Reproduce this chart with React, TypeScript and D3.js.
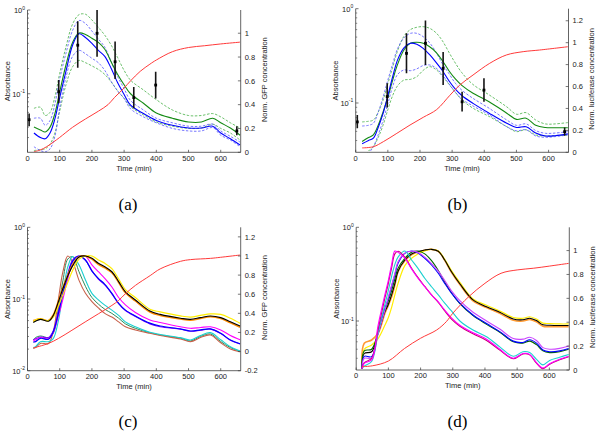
import React from "react";
import * as d3 from "d3";

const X_MAX = 662;
const X_TICKS = [0, 100, 200, 300, 400, 500, 600];

// ---------- Panel (a) ----------
const A_T = [20, 40, 55, 70, 85, 100, 120, 140, 160, 180, 200, 220, 240, 260, 280, 300, 320, 360, 400, 450, 500, 540, 575, 600, 630, 660];
const A_BLUE = [0.034, 0.030, 0.029, 0.034, 0.05, 0.09, 0.19, 0.38, 0.52, 0.47, 0.40, 0.33, 0.28, 0.20, 0.135, 0.098, 0.073, 0.058, 0.048, 0.042, 0.039, 0.039, 0.041, 0.034, 0.029, 0.0245];
const A_GREEN = [0.040, 0.037, 0.035, 0.040, 0.058, 0.105, 0.225, 0.41, 0.53, 0.51, 0.46, 0.41, 0.34, 0.24, 0.17, 0.128, 0.10, 0.077, 0.059, 0.051, 0.046, 0.046, 0.051, 0.045, 0.039, 0.032];
const A_GREEN_HI = [0.067, 0.069, 0.055, 0.06, 0.092, 0.175, 0.37, 0.68, 0.88, 0.89, 0.76, 0.62, 0.50, 0.38, 0.27, 0.19, 0.145, 0.111, 0.085, 0.064, 0.055, 0.055, 0.058, 0.053, 0.045, 0.039];
const A_GREEN_LO = [0.021, 0.0215, 0.022, 0.025, 0.034, 0.062, 0.13, 0.21, 0.25, 0.235, 0.215, 0.195, 0.17, 0.138, 0.108, 0.088, 0.07, 0.056, 0.046, 0.041, 0.0386, 0.039, 0.0434, 0.0386, 0.034, 0.028];
const A_BLUE_HI = [0.051, 0.051, 0.042, 0.048, 0.075, 0.15, 0.31, 0.57, 0.75, 0.69, 0.56, 0.45, 0.36, 0.24, 0.16, 0.115, 0.083, 0.064, 0.051, 0.045, 0.041, 0.041, 0.0434, 0.036, 0.031, 0.0265];
const A_BLUE_LO = [0.0233, 0.021, 0.0203, 0.022, 0.031, 0.068, 0.16, 0.28, 0.33, 0.30, 0.265, 0.235, 0.19, 0.14, 0.108, 0.088, 0.066, 0.053, 0.045, 0.0386, 0.036, 0.036, 0.0394, 0.032, 0.028, 0.0233];
const A_RED_T = [20, 40, 60, 80, 100, 140, 180, 220, 250, 270, 300, 320, 350, 380, 400, 450, 500, 550, 600, 660];
const A_RED = [0.005, 0.02, 0.048, 0.085, 0.125, 0.21, 0.28, 0.345, 0.4, 0.46, 0.54, 0.6, 0.68, 0.74, 0.775, 0.845, 0.88, 0.895, 0.91, 0.925];
const A_ERR_T = [5, 97, 156, 216, 272, 330, 398, 650];
const A_ERR_MID = [0.049, 0.106, 0.38, 0.527, 0.241, 0.09, 0.127, 0.036];
const A_ERR_LO = [0.041, 0.077, 0.205, 0.277, 0.15, 0.067, 0.088, 0.032];
const A_ERR_HI = [0.058, 0.146, 0.734, 1.0, 0.42, 0.12, 0.183, 0.041];

// ---------- Panel (b) ----------
const B_T = [20, 40, 55, 70, 85, 100, 115, 130, 150, 170, 190, 210, 230, 250, 270, 290, 310, 330, 365, 415, 470, 500, 530, 560, 590, 620, 660];
const B_BLUE = [0.037, 0.040, 0.0423, 0.055, 0.077, 0.12, 0.19, 0.285, 0.385, 0.43, 0.42, 0.38, 0.325, 0.27, 0.22, 0.172, 0.14, 0.12, 0.099, 0.078, 0.061, 0.055, 0.056, 0.048, 0.0447, 0.045, 0.047];
const B_GREEN = [0.039, 0.043, 0.046, 0.058, 0.08, 0.115, 0.175, 0.255, 0.365, 0.43, 0.44, 0.43, 0.395, 0.345, 0.28, 0.22, 0.18, 0.154, 0.127, 0.103, 0.078, 0.067, 0.069, 0.058, 0.055, 0.0547, 0.0547];
const B_GREEN_HI = [0.063, 0.064, 0.066, 0.08, 0.107, 0.16, 0.24, 0.355, 0.51, 0.6, 0.635, 0.645, 0.62, 0.555, 0.455, 0.345, 0.265, 0.21, 0.157, 0.122, 0.091, 0.076, 0.079, 0.066, 0.06, 0.06, 0.062];
const B_GREEN_LO = [0.024, 0.031, 0.0344, 0.043, 0.058, 0.085, 0.12, 0.152, 0.175, 0.178, 0.19, 0.222, 0.243, 0.226, 0.192, 0.158, 0.13, 0.108, 0.088, 0.072, 0.056, 0.0497, 0.052, 0.0458, 0.0447, 0.045, 0.0458];
const B_BLUE_HI = [0.057, 0.058, 0.061, 0.08, 0.115, 0.175, 0.26, 0.375, 0.49, 0.548, 0.548, 0.505, 0.435, 0.345, 0.26, 0.205, 0.162, 0.137, 0.112, 0.088, 0.066, 0.058, 0.06, 0.051, 0.0477, 0.048, 0.0497];
const B_BLUE_LO = [0.022, 0.029, 0.0344, 0.046, 0.065, 0.098, 0.15, 0.2, 0.224, 0.22, 0.23, 0.25, 0.253, 0.235, 0.198, 0.16, 0.13, 0.11, 0.093, 0.075, 0.056, 0.0508, 0.052, 0.0447, 0.0433, 0.044, 0.0458];
const B_RED_T = [20, 55, 86, 128, 169, 210, 252, 293, 324, 365, 417, 469, 521, 572, 660];
const B_RED = [0.04, 0.051, 0.097, 0.173, 0.249, 0.319, 0.39, 0.52, 0.614, 0.705, 0.812, 0.888, 0.918, 0.933, 0.963];
const B_ERR_T = [5, 98, 158, 217, 272, 331, 399, 650];
const B_ERR_MID = [0.063, 0.117, 0.336, 0.43, 0.233, 0.103, 0.137, 0.0497];
const B_ERR_LO = [0.054, 0.0896, 0.207, 0.253, 0.155, 0.081, 0.103, 0.045];
const B_ERR_HI = [0.0746, 0.162, 0.548, 0.75, 0.348, 0.132, 0.183, 0.055];

// ---------- Panel (c) ----------
const C_T = [18, 25, 40, 65, 80, 96, 110, 125, 140, 160, 180, 200, 220, 240, 262, 283, 304, 335, 380, 412, 475, 506, 537, 568, 600, 630, 660];
const C_YELLOW = [0.048, 0.051, 0.053, 0.05, 0.056, 0.08, 0.115, 0.17, 0.25, 0.36, 0.398, 0.398, 0.35, 0.315, 0.265, 0.19, 0.135, 0.105, 0.072, 0.066, 0.058, 0.056, 0.059, 0.062, 0.061, 0.054, 0.046];
const C_ORANGE = [0.05, 0.051, 0.053, 0.05, 0.06, 0.094, 0.145, 0.215, 0.3, 0.39, 0.398, 0.36, 0.305, 0.272, 0.232, 0.17, 0.122, 0.094, 0.066, 0.059, 0.0525, 0.0505, 0.0535, 0.0565, 0.0535, 0.0465, 0.0405];
const C_BLACK = [0.047, 0.049, 0.052, 0.049, 0.059, 0.092, 0.14, 0.21, 0.29, 0.385, 0.398, 0.369, 0.315, 0.282, 0.24, 0.175, 0.126, 0.097, 0.068, 0.061, 0.054, 0.052, 0.055, 0.058, 0.055, 0.048, 0.042];
const C_MAGENTA = [0.026, 0.027, 0.029, 0.028, 0.034, 0.058, 0.1, 0.19, 0.31, 0.385, 0.395, 0.3, 0.24, 0.194, 0.147, 0.105, 0.083, 0.065, 0.051, 0.047, 0.041, 0.039, 0.04, 0.041, 0.037, 0.031, 0.027];
const C_PURPLE = [0.027, 0.0278, 0.0295, 0.029, 0.036, 0.068, 0.128, 0.225, 0.35, 0.398, 0.345, 0.25, 0.19, 0.157, 0.118, 0.086, 0.069, 0.057, 0.045, 0.041, 0.0378, 0.0355, 0.0366, 0.038, 0.033, 0.0265, 0.0236];
const C_BLUE = [0.025, 0.0254, 0.0283, 0.0275, 0.035, 0.063, 0.12, 0.21, 0.335, 0.398, 0.35, 0.245, 0.194, 0.16, 0.12, 0.087, 0.07, 0.058, 0.046, 0.042, 0.0382, 0.0358, 0.037, 0.0382, 0.0332, 0.0268, 0.0238];
const C_GREEN = [0.027, 0.029, 0.0305, 0.029, 0.033, 0.075, 0.18, 0.36, 0.39, 0.24, 0.15, 0.105, 0.085, 0.072, 0.063, 0.054, 0.045, 0.039, 0.0338, 0.0315, 0.0283, 0.026, 0.03, 0.0325, 0.0255, 0.021, 0.0186];
const C_CYAN = [0.021, 0.0216, 0.0254, 0.0254, 0.028, 0.05, 0.12, 0.28, 0.39, 0.298, 0.184, 0.12, 0.097, 0.082, 0.07, 0.059, 0.048, 0.041, 0.0343, 0.032, 0.0289, 0.0268, 0.031, 0.034, 0.027, 0.0216, 0.0188];
const C_BROWN = [0.0205, 0.021, 0.024, 0.024, 0.035, 0.1, 0.24, 0.398, 0.33, 0.182, 0.12, 0.092, 0.075, 0.063, 0.056, 0.048, 0.041, 0.037, 0.0332, 0.031, 0.0277, 0.0254, 0.029, 0.0315, 0.0245, 0.0201, 0.0184];
const C_RED_T = [18, 65, 96, 138, 179, 221, 262, 283, 304, 335, 381, 412, 475, 506, 568, 599, 660];
const C_RED = [0.038, 0.085, 0.137, 0.223, 0.31, 0.397, 0.483, 0.535, 0.605, 0.692, 0.795, 0.865, 0.944, 0.962, 0.975, 0.986, 1.01];

// ---------- Panel (d) ----------
const D_T = [18, 25, 48, 68, 89, 99, 110, 120, 130, 151, 172, 192, 213, 234, 255, 275, 296, 322, 363, 405, 446, 488, 518, 539, 560, 580, 601, 632, 660];
const D_YELLOW = [0.031, 0.05, 0.0555, 0.065, 0.09, 0.107, 0.14, 0.19, 0.252, 0.39, 0.467, 0.52, 0.56, 0.58, 0.56, 0.455, 0.345, 0.258, 0.172, 0.147, 0.128, 0.109, 0.107, 0.111, 0.105, 0.095, 0.094, 0.093, 0.093];
const D_ORANGE = [0.031, 0.0578, 0.0627, 0.074, 0.12, 0.145, 0.18, 0.24, 0.335, 0.44, 0.51, 0.545, 0.57, 0.582, 0.555, 0.445, 0.33, 0.245, 0.164, 0.139, 0.121, 0.102, 0.1, 0.104, 0.098, 0.088, 0.087, 0.087, 0.087];
const D_BLACK = [0.031, 0.045, 0.047, 0.074, 0.125, 0.148, 0.19, 0.25, 0.34, 0.448, 0.52, 0.55, 0.573, 0.582, 0.555, 0.448, 0.336, 0.25, 0.168, 0.142, 0.124, 0.105, 0.103, 0.107, 0.101, 0.091, 0.09, 0.0895, 0.0896];
const D_GREEN = [0.031, 0.048, 0.05, 0.076, 0.13, 0.161, 0.21, 0.28, 0.365, 0.467, 0.541, 0.558, 0.52, 0.44, 0.345, 0.26, 0.2, 0.153, 0.114, 0.092, 0.076, 0.06, 0.058, 0.061, 0.056, 0.048, 0.046, 0.047, 0.05];
const D_BLUE = [0.031, 0.042, 0.0417, 0.078, 0.135, 0.17, 0.235, 0.31, 0.412, 0.527, 0.558, 0.53, 0.467, 0.396, 0.323, 0.252, 0.198, 0.155, 0.116, 0.094, 0.077, 0.061, 0.059, 0.063, 0.058, 0.049, 0.047, 0.048, 0.051];
const D_VIOLET = [0.031, 0.04, 0.04, 0.072, 0.13, 0.175, 0.24, 0.32, 0.43, 0.53, 0.556, 0.54, 0.48, 0.41, 0.34, 0.27, 0.21, 0.165, 0.124, 0.1, 0.082, 0.065, 0.064, 0.067, 0.062, 0.052, 0.05, 0.051, 0.054];
const D_CYAN = [0.031, 0.033, 0.037, 0.076, 0.15, 0.206, 0.3, 0.4, 0.48, 0.558, 0.448, 0.365, 0.286, 0.232, 0.19, 0.155, 0.128, 0.1, 0.08, 0.068, 0.053, 0.042, 0.047, 0.046, 0.039, 0.034, 0.038, 0.041, 0.044];
const D_CRIMSON = [0.031, 0.036, 0.04, 0.082, 0.175, 0.245, 0.37, 0.52, 0.555, 0.48, 0.365, 0.29, 0.234, 0.19, 0.158, 0.128, 0.105, 0.088, 0.073, 0.062, 0.049, 0.0395, 0.0445, 0.0435, 0.0355, 0.031, 0.0345, 0.0385, 0.0415];
const D_MAGENTA = [0.031, 0.0354, 0.0384, 0.09, 0.19, 0.263, 0.4, 0.558, 0.54, 0.47, 0.36, 0.286, 0.232, 0.19, 0.16, 0.131, 0.108, 0.09, 0.075, 0.064, 0.05, 0.04, 0.045, 0.044, 0.036, 0.0315, 0.035, 0.039, 0.042];
const D_RED_T = [18, 50, 100, 150, 200, 250, 280, 300, 350, 400, 450, 500, 550, 600, 660];
const D_RED = [0.028, 0.035, 0.075, 0.18, 0.266, 0.335, 0.405, 0.475, 0.615, 0.726, 0.81, 0.838, 0.852, 0.87, 0.893];

const RT_AD = [0, 0.2, 0.4, 0.6, 0.8, 1];
const RT_B = [0, 0.2, 0.4, 0.6, 0.8, 1, 1.2];
const RT_C = [-0.2, 0, 0.2, 0.4, 0.6, 0.8, 1, 1.2];

type Line = { t: number[]; v: number[]; color: string; width: number; dash?: string };
type Err = { t: number[]; mid: number[]; lo: number[]; hi: number[] };
interface PanelProps {
  id: string;
  L: number; R: number; T: number; B: number;
  yDomain: [number, number];
  rDomain: [number, number];
  rTicks: number[];
  lines: Line[];
  redT: number[]; redV: number[];
  err?: Err;
  rightLabel: string;
  caption: string;
  capX: number; capY: number;
}

const FONT = "'Liberation Sans', Arial, Helvetica, sans-serif";
const AX = "#3c3c3c";
const TXT = "#222";
const FS = 7.5;

function Panel(p: PanelProps) {
  const x = d3.scaleLinear().domain([0, X_MAX]).range([p.L, p.R]);
  const y = d3.scaleLog().domain(p.yDomain).range([p.B, p.T]);
  const yr = d3.scaleLinear().domain(p.rDomain).range([p.B, p.T]);
  const leftLine = d3.line<[number, number]>().x((d) => x(d[0])).y((d) => y(d[1])).curve(d3.curveCatmullRom.alpha(0.5));
  const rightLine = d3.line<[number, number]>().x((d) => x(d[0])).y((d) => yr(d[1])).curve(d3.curveCatmullRom.alpha(0.5));
  const zip = (t: number[], v: number[]) => t.map((ti, i) => [ti, v[i]] as [number, number]);
  const [y0, y1] = p.yDomain;
  const majors: number[] = [];
  const minors: number[] = [];
  for (let k = Math.floor(Math.log10(y0)); k <= Math.ceil(Math.log10(y1)); k++) {
    const base = Math.pow(10, k);
    if (base >= y0 * 0.999 && base <= y1 * 1.001) majors.push(k);
    for (let m = 2; m <= 9; m++) {
      const v = m * base;
      if (v > y0 * 1.001 && v < y1 * 0.999) minors.push(v);
    }
  }
  const clipId = `clip-${p.id}`;
  const midY = (p.T + p.B) / 2;
  return (
    <g>
      <defs>
        <clipPath id={clipId}>
          <rect x={p.L} y={p.T} width={p.R - p.L} height={p.B - p.T} />
        </clipPath>
      </defs>
      <g clipPath={`url(#${clipId})`}>
        {p.lines.map((l, i) => (
          <path key={i} d={leftLine(zip(l.t, l.v)) || ""} fill="none" stroke={l.color} strokeWidth={l.width} strokeDasharray={l.dash} strokeLinejoin="round" />
        ))}
        {p.err &&
          p.err.t.map((t, i) => (
            <g key={"e" + i}>
              <line x1={x(t)} x2={x(t)} y1={y(p.err!.lo[i])} y2={y(p.err!.hi[i])} stroke="#151515" strokeWidth={1.6} />
              <rect x={x(t) - 1.4} y={y(p.err!.mid[i]) - 1.4} width={2.8} height={2.8} fill="#000" />
            </g>
          ))}
        <path d={rightLine(zip(p.redT, p.redV)) || ""} fill="none" stroke="#ff3a3a" strokeWidth={1} />
      </g>
      {/* axis lines */}
      <line x1={p.L} x2={p.L} y1={p.T} y2={p.B} stroke={AX} strokeWidth={0.8} />
      <line x1={p.R} x2={p.R} y1={p.T} y2={p.B} stroke={AX} strokeWidth={0.8} />
      <line x1={p.L} x2={p.R} y1={p.B} y2={p.B} stroke={AX} strokeWidth={0.8} />
      {/* x ticks */}
      {X_TICKS.map((t) => (
        <g key={"x" + t}>
          <line x1={x(t)} x2={x(t)} y1={p.B} y2={p.B - 2.5} stroke={AX} strokeWidth={0.7} />
          <text x={x(t)} y={p.B + 8.3} textAnchor="middle" fontSize={FS} fontFamily={FONT} fill={TXT}>{t}</text>
        </g>
      ))}
      {/* left log ticks */}
      {minors.map((v, i) => (
        <line key={"m" + i} x1={p.L} x2={p.L + 1.5} y1={y(v)} y2={y(v)} stroke={AX} strokeWidth={0.6} />
      ))}
      {majors.map((k) => (
        <g key={"k" + k}>
          <line x1={p.L} x2={p.L + 2.8} y1={y(Math.pow(10, k))} y2={y(Math.pow(10, k))} stroke={AX} strokeWidth={0.7} />
          <text x={p.L - 2.5} y={y(Math.pow(10, k)) + 2.8} textAnchor="end" fontSize={FS} fontFamily={FONT} fill={TXT}>
            10<tspan fontSize={5} dy={-3.3}>{k === 0 ? "0" : String(k)}</tspan>
          </text>
        </g>
      ))}
      {/* right ticks */}
      {p.rTicks.map((v) => (
        <g key={"r" + v}>
          <line x1={p.R} x2={p.R - 2.8} y1={yr(v)} y2={yr(v)} stroke={AX} strokeWidth={0.7} />
          <text x={p.R + 4} y={yr(v) + 2.7} textAnchor="start" fontSize={FS} fontFamily={FONT} fill={TXT}>{String(v)}</text>
        </g>
      ))}
      {/* labels */}
      <text transform={`translate(${p.L - 17.5},${midY}) rotate(-90)`} textAnchor="middle" fontSize={FS} fontFamily={FONT} fill={TXT}>Absorbance</text>
      <text x={(p.L + p.R) / 2} y={p.B + 18.2} textAnchor="middle" fontSize={FS} fontFamily={FONT} fill={TXT}>Time (min)</text>
      <text transform={`translate(${p.R + 25.8},${midY - 1.5}) rotate(-90)`} textAnchor="middle" fontSize={FS} fontFamily={FONT} fill={TXT}>{p.rightLabel}</text>
      <text x={p.capX} y={p.capY} textAnchor="middle" fontSize={17} fontFamily="'Liberation Serif', 'Times New Roman', serif" fill="#000">{p.caption}</text>
    </g>
  );
}

const DASH = "2.5,1.6";

export default function App() {
  const aLines: Line[] = [
    { t: A_T, v: A_GREEN_HI, color: "#45b045", width: 0.8, dash: DASH },
    { t: A_T, v: A_GREEN_LO, color: "#45b045", width: 0.8, dash: DASH },
    { t: A_T, v: A_BLUE_HI, color: "#5555ff", width: 0.8, dash: DASH },
    { t: A_T, v: A_BLUE_LO, color: "#5555ff", width: 0.8, dash: DASH },
    { t: A_T, v: A_GREEN, color: "#138a13", width: 1.1 },
    { t: A_T, v: A_BLUE, color: "#0000ff", width: 1.1 },
  ];
  const bLines: Line[] = [
    { t: B_T, v: B_GREEN_HI, color: "#45b045", width: 0.8, dash: DASH },
    { t: B_T, v: B_GREEN_LO, color: "#45b045", width: 0.8, dash: DASH },
    { t: B_T, v: B_BLUE_HI, color: "#5555ff", width: 0.8, dash: DASH },
    { t: B_T, v: B_BLUE_LO, color: "#5555ff", width: 0.8, dash: DASH },
    { t: B_T, v: B_GREEN, color: "#138a13", width: 1.1 },
    { t: B_T, v: B_BLUE, color: "#0000ff", width: 1.1 },
  ];
  const cLines: Line[] = [
    { t: C_T, v: C_GREEN, color: "#2e8b57", width: 1 },
    { t: C_T, v: C_BROWN, color: "#c8604a", width: 1.1 },
    { t: C_T, v: C_CYAN, color: "#1cd0d0", width: 1.1 },
    { t: C_T, v: C_PURPLE, color: "#8000ff", width: 1.1 },
    { t: C_T, v: C_MAGENTA, color: "#ff00ff", width: 1.1 },
    { t: C_T, v: C_BLUE, color: "#0000ff", width: 1.2 },
    { t: C_T, v: C_ORANGE, color: "#ff8c00", width: 1.6 },
    { t: C_T, v: C_YELLOW, color: "#ffee00", width: 1.2 },
    { t: C_T, v: C_BLACK, color: "#000000", width: 1.1 },
  ];
  const dLines: Line[] = [
    { t: D_T, v: D_ORANGE, color: "#ff9a30", width: 1.6 },
    { t: D_T, v: D_YELLOW, color: "#ffee00", width: 1.2 },
    { t: D_T, v: D_BLACK, color: "#000000", width: 1.1 },
    { t: D_T, v: D_GREEN, color: "#006400", width: 1.1 },
    { t: D_T, v: D_BLUE, color: "#0000ff", width: 1.1 },
    { t: D_T, v: D_VIOLET, color: "#cc44ff", width: 1.1 },
    { t: D_T, v: D_CYAN, color: "#1cd0d0", width: 1.1 },
    { t: D_T, v: D_CRIMSON, color: "#c8006e", width: 1.1 },
    { t: D_T, v: D_MAGENTA, color: "#ff00ff", width: 1.1 },
  ];
  return (
    <svg width={600} height={433} style={{ position: "absolute", left: 0, top: 0, background: "#fff" }}>
      <rect x={0} y={0} width={600} height={433} fill="#fff" />
      <Panel id="a" L={27.5} R={240.7} T={10} B={152.3} yDomain={[0.02, 1]} rDomain={[0, 1.195]} rTicks={RT_AD}
        lines={aLines} redT={A_RED_T} redV={A_RED}
        err={{ t: A_ERR_T, mid: A_ERR_MID, lo: A_ERR_LO, hi: A_ERR_HI }}
        rightLabel="Norm. GFP concentration" caption="(a)" capX={128} capY={209.5} />
      <Panel id="b" L={355.7} R={568.5} T={8.7} B={152.3} yDomain={[0.03, 1]} rDomain={[0, 1.31]} rTicks={RT_B}
        lines={bLines} redT={B_RED_T} redV={B_RED}
        err={{ t: B_ERR_T, mid: B_ERR_MID, lo: B_ERR_LO, hi: B_ERR_HI }}
        rightLabel="Norm. luciferase concentration" caption="(b)" capX={457.5} capY={209.5} />
      <Panel id="c" L={27.5} R={240.7} T={227.3} B={370.7} yDomain={[0.01, 1]} rDomain={[-0.2, 1.3]} rTicks={RT_C}
        lines={cLines} redT={C_RED_T} redV={C_RED}
        rightLabel="Norm. GFP concentration" caption="(c)" capX={128} capY={426.5} />
      <Panel id="d" L={356.2} R={569.3} T={227.3} B={370} yDomain={[0.03, 1]} rDomain={[0, 1.195]} rTicks={RT_AD}
        lines={dLines} redT={D_RED_T} redV={D_RED}
        rightLabel="Norm. luciferase concentration" caption="(d)" capX={457.5} capY={426.5} />
    </svg>
  );
}
